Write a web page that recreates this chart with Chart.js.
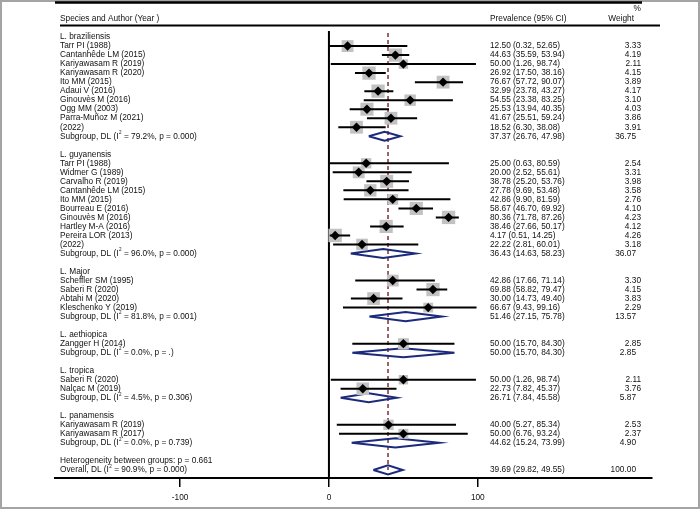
<!DOCTYPE html>
<html lang="en">
<head>
<meta charset="UTF-8" />
<title>forest plot</title>
<script src="https://cdn.jsdelivr.net/npm/chart.js"></script>
<style>
  html, body { margin: 0; padding: 0; background: #fff; }
  canvas { display: block; }
</style>
</head>
<body>
<canvas id="forest" width="700" height="509"></canvas>
<script>
// ---- data ----
const groupNames = ["L. braziliensis", "L. guyanensis", "L. Major", "L. aethiopica", "L. tropica", "L. panamensis"];

const studyLabels = [
  ["Tarr PI (1988)", "Cantanhêde LM (2015)", "Kariyawasam R (2019)", "Kariyawasam R (2020)", "Ito MM (2015)",
   "Adaui V (2016)", "Ginouvès M (2016)", "Ogg MM (2003)", "Parra-Muñoz M (2021)", "(2022)"],
  ["Tarr PI (1988)", "Widmer G (1989)", "Carvalho R (2019)", "Cantanhêde LM (2015)", "Ito MM (2015)",
   "Bourreau E (2016)", "Ginouvès M (2016)", "Hartley M-A (2016)", "Pereira LOR (2013)", "(2022)"],
  ["Scheffler SM (1995)", "Saberi R (2020)", "Abtahi M (2020)", "Kleschenko Y (2019)"],
  ["Zangger H (2014)"],
  ["Saberi R (2020)", "Nalçac M (2019)"],
  ["Kariyawasam R (2019)", "Kariyawasam R (2017)"]
];
const studyEst = [
  [12.50, 44.63, 50.00, 26.92, 76.67, 32.99, 54.55, 25.53, 41.67, 18.52],
  [25.00, 20.00, 38.78, 27.78, 42.86, 58.67, 80.36, 38.46, 4.17, 22.22],
  [42.86, 69.88, 30.00, 66.67],
  [50.00],
  [50.00, 22.73],
  [40.00, 50.00]
];
const studyLo = [
  [0.32, 35.59, 1.26, 17.50, 57.72, 23.78, 23.38, 13.94, 25.51, 6.30],
  [0.63, 2.52, 25.20, 9.69, 9.90, 46.70, 71.78, 27.66, 0.51, 2.81],
  [17.66, 58.82, 14.73, 9.43],
  [15.70],
  [1.26, 7.82],
  [5.27, 6.76]
];
const studyHi = [
  [52.65, 53.94, 98.74, 38.16, 90.07, 43.27, 83.25, 40.35, 59.24, 38.08],
  [80.59, 55.61, 53.76, 53.48, 81.59, 69.92, 87.26, 50.17, 14.25, 60.01],
  [71.14, 79.47, 49.40, 99.16],
  [84.30],
  [98.74, 45.37],
  [85.34, 93.24]
];
const studyWeight = [
  [3.33, 4.19, 2.11, 4.15, 3.89, 4.17, 3.10, 4.03, 3.86, 3.91],
  [2.54, 3.31, 3.98, 3.58, 2.76, 4.10, 4.23, 4.12, 4.26, 3.18],
  [3.30, 4.15, 3.83, 2.29],
  [2.85],
  [2.11, 3.76],
  [2.53, 2.37]
];

const subI2 = ["79.2%", "96.0%", "81.8%", "0.0%", "4.5%", "0.0%"];
const subP = ["0.000", "0.000", "0.001", ".", "0.306", "0.739"];
const subEst = [37.37, 36.43, 51.46, 50.00, 26.71, 44.62];
const subLo = [26.76, 14.63, 27.15, 15.70, 7.84, 15.24];
const subHi = [47.98, 58.23, 75.78, 84.30, 45.58, 73.99];
const subWeight = [36.75, 36.07, 13.57, 2.85, 5.87, 4.90];

const hetText = "Heterogeneity between groups: p = 0.661";
const overallI2 = "90.9%";
const overallP = "0.000";
const overallEst = 39.69;
const overallLo = 29.82;
const overallHi = 49.55;
const overallWeight = 100.00;

const xTicks = [-100, 0, 100];
const xMin = -184;
const xMax = 217;

// ---- row layout ----
const rows = [];
let r = 0;
groupNames.forEach((g, gi) => {
  rows.push({ kind: "group", row: r++, text: g });
  studyLabels[gi].forEach((s, si) => {
    rows.push({ kind: "study", row: r++, text: s, est: studyEst[gi][si], lo: studyLo[gi][si],
      hi: studyHi[gi][si], w: studyWeight[gi][si] });
  });
  rows.push({ kind: "sub", row: r++, i2: subI2[gi], p: subP[gi], est: subEst[gi], lo: subLo[gi],
    hi: subHi[gi], w: subWeight[gi] });
  r++;
});
rows.push({ kind: "het", row: r++, text: hetText });
rows.push({ kind: "overall", row: r++, i2: overallI2, p: overallP, est: overallEst, lo: overallLo,
  hi: overallHi, w: overallWeight });
const yMin = -0.67, yMax = r - 0.1;

const studies = rows.filter(d => d.kind === "study");
const pooled = rows.filter(d => d.kind === "sub" || d.kind === "overall");

const ciData = [];
studies.forEach(d => {
  ciData.push({ x: d.lo, y: d.row }, { x: d.hi, y: d.row }, { x: null, y: null });
});
const diamondData = [];
pooled.forEach(d => {
  diamondData.push({ x: d.lo, y: d.row }, { x: d.est, y: d.row - 0.5 }, { x: d.hi, y: d.row },
    { x: d.est, y: d.row + 0.5 }, { x: d.lo, y: d.row }, { x: null, y: null });
});
const overallRow = rows[rows.length - 1].row;

const FAMILY = '"Liberation Sans", Arial, sans-serif';
const FONT = "8.3px " + FAMILY;

function fmtCI(d) {
  return d.est.toFixed(2) + " (" + d.lo.toFixed(2) + ", " + d.hi.toFixed(2) + ")";
}

function drawPooledLabel(ctx, x, y, head, d) {
  ctx.font = FONT;
  const a = head + ", DL (I";
  ctx.fillText(a, x, y);
  let cx = x + ctx.measureText(a).width + 0.5;
  ctx.font = "4.5px " + FAMILY;
  ctx.fillText("2", cx, y - 3.5);
  cx += ctx.measureText("2").width;
  ctx.font = FONT;
  ctx.fillText(" = " + d.i2 + ", p = " + d.p + ")", cx, y);
}

const textPlugin = {
  id: "forestText",
  afterDraw(chart) {
    const ctx = chart.ctx;
    const ys = chart.scales.y;
    const area = chart.chartArea;
    ctx.save();

    // frame of the picture
    ctx.strokeStyle = "#a4a4a4";
    ctx.lineWidth = 2;
    ctx.strokeRect(1, 1, chart.width - 2, chart.height - 2);

    // top rule and header rule
    ctx.strokeStyle = "#000";
    ctx.lineWidth = 2.5;
    ctx.beginPath(); ctx.moveTo(area.left, 2.5); ctx.lineTo(642, 2.5); ctx.stroke();
    ctx.lineWidth = 2;
    ctx.beginPath(); ctx.moveTo(area.left + 5, 25.5); ctx.lineTo(660, 25.5); ctx.stroke();

    ctx.fillStyle = "#111";
    ctx.textBaseline = "middle";
    ctx.font = FONT;
    const colL = area.left + 5, colCI = 490, colW = 641;
    ctx.textAlign = "left";
    ctx.fillText("Species and Author (Year )", colL, 19);
    ctx.fillText("Prevalence (95% CI)", colCI, 19);
    ctx.textAlign = "right";
    ctx.fillText("Weight", 634, 19);
    ctx.fillText("%", 641, 9);

    rows.forEach(d => {
      const y = ys.getPixelForValue(d.row);
      ctx.textAlign = "left";
      ctx.font = FONT;
      if (d.kind === "group" || d.kind === "study" || d.kind === "het") {
        ctx.fillText(d.text, colL, y);
      } else {
        drawPooledLabel(ctx, colL, y, d.kind === "sub" ? "Subgroup" : "Overall", d);
      }
      if (d.est !== undefined) {
        ctx.font = FONT;
        ctx.textAlign = "left";
        ctx.fillText(fmtCI(d), colCI, y);
        ctx.textAlign = "right";
        ctx.fillText(d.w.toFixed(2), d.kind === "study" ? colW : colW - 5, y);
      }
    });
    ctx.restore();
  }
};

new Chart(document.getElementById("forest"), {
  type: "scatter",
  data: {
    datasets: [
      {
        label: "estimate",
        data: studies.map(d => ({ x: d.est, y: d.row })),
        pointStyle: "rectRot",
        pointRadius: 4.7,
        backgroundColor: "#000",
        borderWidth: 0
      },
      {
        label: "ci",
        data: ciData,
        showLine: true,
        spanGaps: false,
        borderColor: "#000",
        borderWidth: 2,
        pointRadius: 0
      },
      {
        label: "weight box",
        data: studies.map(d => ({ x: d.est, y: d.row })),
        pointStyle: "rect",
        pointRadius: studies.map(d => 6.5 * Math.sqrt(d.w) / Math.SQRT2),
        backgroundColor: "#c2c2c2",
        borderWidth: 0
      },
      {
        label: "pooled",
        data: diamondData,
        showLine: true,
        spanGaps: false,
        borderColor: "#1b2a7c",
        borderWidth: 2,
        pointRadius: 0
      },
      {
        label: "overall line",
        data: [{ x: overallEst, y: -0.45 }, { x: overallEst, y: overallRow }],
        showLine: true,
        borderColor: "#7d3030",
        borderWidth: 1.5,
        borderDash: [4, 3],
        pointRadius: 0
      },
      {
        label: "null line",
        data: [{ x: 0, y: yMin }, { x: 0, y: yMax }],
        showLine: true,
        borderColor: "#000",
        borderWidth: 2,
        pointRadius: 0
      }
    ]
  },
  options: {
    responsive: false,
    animation: false,
    events: [],
    layout: { padding: { left: 55, right: 48, top: 31, bottom: 0 } },
    plugins: { legend: { display: false }, tooltip: { enabled: false } },
    scales: {
      x: {
        type: "linear",
        min: xMin,
        max: xMax,
        afterBuildTicks: s => { s.ticks = xTicks.map(v => ({ value: v })); },
        grid: { display: true, drawOnChartArea: false, drawTicks: true, tickLength: 9, color: "#000", lineWidth: 1.5 },
        border: { display: true, color: "#000", width: 2 },
        ticks: { color: "#111", font: { family: FAMILY, size: 8.3 }, padding: 6, maxRotation: 0 }
      },
      y: {
        type: "linear",
        reverse: true,
        min: yMin,
        max: yMax,
        display: false
      }
    }
  },
  plugins: [textPlugin]
});
</script>
</body>
</html>
